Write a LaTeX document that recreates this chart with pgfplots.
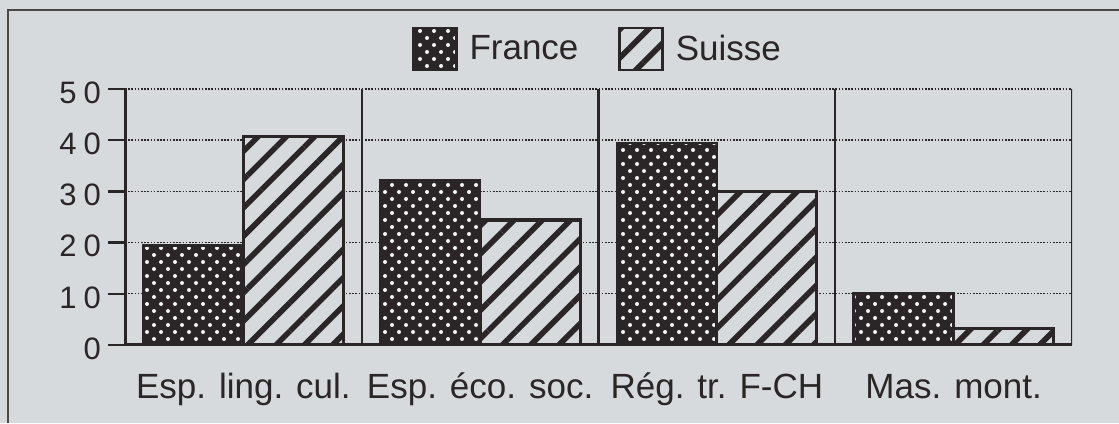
\documentclass[border=0pt]{standalone}
\usepackage{fontspec}
\setmainfont{Liberation Sans}
\usepackage{pgfplots}
\pgfplotsset{compat=1.18}
\usetikzlibrary{patterns.meta}
\definecolor{bg}{HTML}{D6DADC}
\definecolor{ink}{HTML}{2A2627}
\definecolor{dotc}{HTML}{F4F4F4}
\begin{document}
\begin{tikzpicture}
\path[use as bounding box] (0,0) rectangle (559.5pt,211.5pt);
\fill[bg] (0,0) rectangle (559.5pt,211.5pt);
\draw[ink!85, line width=1pt] (4pt,0) -- (4pt,206.5pt) -- (559.5pt,206.5pt);
\begin{axis}[
  at={(62.5pt,39pt)}, anchor=south west,
  scale only axis, width=473.5pt, height=128pt,
  xmin=-0.5, xmax=3.5, ymin=0, ymax=50,
  ybar=0pt, bar width=50pt,
  axis x line*=bottom, axis y line*=left,
  axis line style={ink, line width=1.5pt, -},
  xtick={0,1,2,3},
  xticklabels={Esp. ling. cul., Esp. éco. soc., Rég. tr. F-CH, Mas. mont.},
  x tick style={draw=none},
  xticklabel style={font=\fontsize{17.5}{20}\selectfont, text=ink, anchor=base, yshift=-18pt},
  ytick={0,10,20,30,40,50},
  yticklabels={0,1\hspace{3.5pt}0,2\hspace{3.5pt}0,3\hspace{3.5pt}0,4\hspace{3.5pt}0,5\hspace{3.5pt}0},
  yticklabel style={font=\fontsize{15.5}{18}\selectfont, text=ink, anchor=east, yshift=-1.8pt},
  y tick style={ink, line width=1.2pt},
  tick align=outside, major tick length=8.5pt,
  ymajorgrids,
  grid style={ink, line width=0.7pt, dash pattern=on 0.8pt off 0.8pt},
  legend style={at={(0.5,1.156)}, anchor=center, draw=none, fill=none,
    font=\fontsize{17.5}{20}\selectfont, text=ink, legend columns=2,
    /tikz/every odd column/.append style={column sep=4pt},
    /tikz/every even column/.append style={column sep=18pt}},
  legend image code/.code={\draw[#1, line width=1.2pt] (0pt,-10.5pt) rectangle (21.5pt,10.5pt);},
]
\addplot[draw=ink, line width=1.2pt, fill=ink,
  postaction={pattern={Dots[distance=4.95pt, angle=45, radius=1pt]}, pattern color=dotc}]
  coordinates {(0,19.4) (1,32.1) (2,39.5) (3,10.1)};
\addlegendentry{France}
\addplot[draw=ink, line width=1.6pt, fill=bg,
  postaction={pattern={Lines[distance=10pt, angle=45, line width=2.8pt]}, pattern color=ink}]
  coordinates {(0,40.8) (1,24.4) (2,30) (3,3.2)};
\addlegendentry{Suisse}
\draw[ink, line width=1.5pt] (axis cs:-0.5,0) -- ([yshift=-7.5pt]axis cs:-0.5,0);
\draw[ink, line width=1.1pt] (axis cs:0.5,50) -- ([yshift=-7.5pt]axis cs:0.5,0);
\draw[ink, line width=1.1pt] (axis cs:1.5,50) -- ([yshift=-7.5pt]axis cs:1.5,0);
\draw[ink, line width=1.1pt] (axis cs:2.5,50) -- ([yshift=-7.5pt]axis cs:2.5,0);
\draw[ink, line width=1.1pt] (axis cs:3.5,50) -- (axis cs:3.5,0);
\end{axis}
\end{tikzpicture}
\end{document}
